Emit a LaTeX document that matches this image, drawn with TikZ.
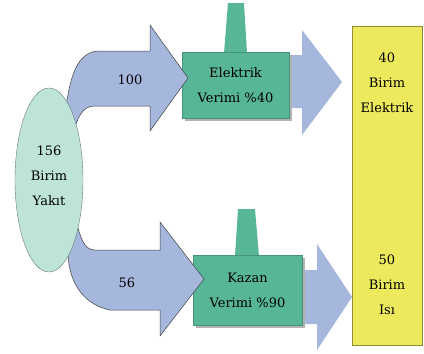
\documentclass[tikz,border=0pt]{standalone}
\usepackage{fontspec}
\setmainfont{DejaVu Serif}
\usetikzlibrary{shapes.geometric,shadows}

\begin{document}
\begin{tikzpicture}[x=1pt,y=-1pt,
    txt/.style={font=\fontsize{13}{25}\selectfont, align=center, inner sep=0pt},
    flow/.style={fill=flowblue, draw=black!75, line width=0.5pt},
    outflow/.style={fill=flowblue},
    effbox/.style={rectangle, fill=boxgreen, draw=boxgreen!80!black, line width=0.4pt,
        drop shadow={shadow xshift=3pt, shadow yshift=-3pt, fill=black!30, opacity=1},
        font=\fontsize{13}{25}\selectfont, align=center, inner sep=0pt}]

    % Colors
    \definecolor{fuelgreen}{RGB}{190,228,215}
    \definecolor{flowblue}{RGB}{166,183,221}
    \definecolor{boxgreen}{RGB}{88,182,152}
    \definecolor{outyellow}{RGB}{236,234,92}

    \useasboundingbox (0,0) rectangle (424,354);

    % Chimneys
    \fill[boxgreen] (224,53) -- (228,3) -- (244,3) -- (247,53) -- cycle;
    \fill[boxgreen] (235,256) -- (238,209) -- (255,209) -- (259,256) -- cycle;

    % Output arrows
    \fill[outflow] (285,55) -- (302,55) -- (302,30) -- (342,82) -- (302,135) -- (302,108) -- (285,108) -- cycle;
    \fill[outflow] (298,270) -- (317,270) -- (317,244) -- (352,297) -- (317,350) -- (317,324) -- (298,324) -- cycle;

    % Efficiency boxes
    \node[effbox, minimum width=107pt, minimum height=66pt] (elec) at (235.5,85) {Elektrik\\Verimi \%40};
    \node[effbox, minimum width=109pt, minimum height=70pt] (boiler) at (247.5,290) {Kazan\\Verimi \%90};

    % Output column
    \node[rectangle, fill=outyellow, draw=outyellow!60!black, line width=0.4pt,
        minimum width=70pt, minimum height=319pt] (output) at (387,185.5) {};
    \node[txt] (elecout) at (387,83) {40\\Birim\\Elektrik};
    \node[txt] (heatout) at (387,285) {50\\Birim\\Isı};

    % Curved input arrows
    \draw[flow] (62,112) -- (67,100) .. controls (72,70) and (80,51) .. (100,51)
        -- (150,51) -- (150,25) -- (188,78) -- (150,131) -- (150,106) -- (95,106)
        .. controls (85,106) and (80,113) .. (76,124) -- cycle;
    \draw[flow] (60,240) -- (78,228) .. controls (82,242) and (86,250) .. (95,250)
        -- (160,250) -- (160,222) -- (204,279) -- (160,336) -- (160,310) -- (110,310)
        .. controls (85,305) and (70,285) .. (68,256) -- cycle;
    \node[txt] (flowtop) at (130,80) {100};
    \node[txt] (flowbottom) at (127,283) {56};

    % Fuel
    \node[ellipse, fill=fuelgreen, draw=fuelgreen!55!black, line width=0.4pt,
        minimum width=68pt, minimum height=184pt, inner sep=0pt] (fuel) at (49,180) {};
    \node[txt] (fueltext) at (49,176) {156\\Birim\\Yakıt};

\end{tikzpicture}
\end{document}
